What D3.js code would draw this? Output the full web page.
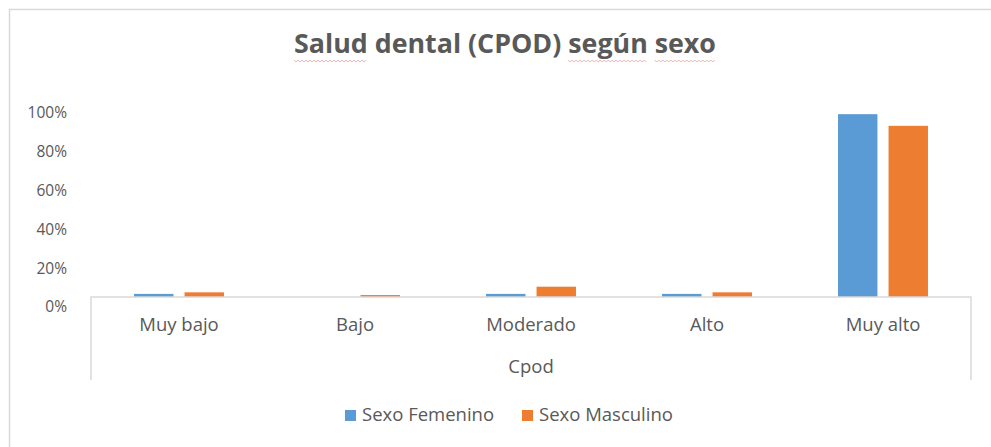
<!DOCTYPE html>
<html>
<head>
<meta charset="utf-8">
<script src="https://cdn.jsdelivr.net/npm/d3@7"></script>
<style>
  html, body { margin: 0; padding: 0; background: #fff; }
  svg { display: block; font-family: "Open Sans", sans-serif; }
</style>
</head>
<body>
<div id="chart"></div>
<script>
// data
const categories = ["Muy bajo", "Bajo", "Moderado", "Alto", "Muy alto"];
const seriesNames = ["Sexo Femenino", "Sexo Masculino"];
const femenino = [0.016, 0, 0.016, 0.016, 0.94];
const masculino = [0.024, 0.010, 0.053, 0.024, 0.88];
const yTicks = [0, 0.2, 0.4, 0.6, 0.8, 1];
const axisTitle = "Cpod";
const chartTitle = "Salud dental (CPOD) según sexo";

const colors = ["#5B9BD5", "#ED7D31"];
const textColor = "#595959";
const lineColor = "#D9D9D9";

const width = 991, height = 447;
const plot = { left: 91, right: 971, top: 102.5, bottom: 297 };

const svg = d3.select("#chart")
    .append("svg")
    .attr("width", width)
    .attr("height", height);

// outer chart frame (runs off the right / bottom edge like the screenshot)
svg.append("rect")
    .attr("x", 9.5).attr("y", 9.5)
    .attr("width", 1000).attr("height", 500)
    .attr("fill", "none")
    .attr("stroke", lineColor)
    .attr("stroke-width", 1.5);

// title
const title = svg.append("text")
    .attr("x", 505)
    .attr("y", 53)
    .attr("text-anchor", "middle")
    .attr("font-weight", "bold")
    .attr("font-size", "26.8px")
    .attr("fill", textColor)
    .text(chartTitle);

// spell-check squiggles under a few words, as in the screenshot
const titleNode = title.node();
const titleStart = 505 - titleNode.getComputedTextLength() / 2;
["Salud", "según", "sexo"].forEach(function (word) {
    const idx = chartTitle.indexOf(word);
    const x0 = titleStart + (idx > 0 ? titleNode.getSubStringLength(0, idx) : 0);
    const w = titleNode.getSubStringLength(idx, word.length);
    let d = "M" + x0 + ",60";
    for (let x = x0 + 2, k = 0; x <= x0 + w; x += 2, k++) {
        d += "L" + x + "," + (k % 2 === 0 ? 62 : 60);
    }
    svg.append("path")
        .attr("d", d)
        .attr("fill", "none")
        .attr("stroke", "#E8A0A0")
        .attr("stroke-width", 0.8);
});

// scales
const x0 = d3.scaleBand()
    .domain(categories)
    .range([plot.left, plot.right])
    .paddingInner(0.489)
    .paddingOuter(0.2445);

const x1 = d3.scaleBand()
    .domain(seriesNames)
    .range([0, x0.bandwidth()])
    .paddingInner(0.22);

const y = d3.scaleLinear()
    .domain([0, 1])
    .range([plot.bottom, plot.top]);

// y axis labels (no line, no ticks)
const yAxis = svg.append("g")
    .attr("transform", `translate(${plot.left - 24}, 10)`)
    .call(d3.axisLeft(y).tickValues(yTicks).tickFormat(d3.format(".0%")).tickSize(0).tickPadding(0));
yAxis.select(".domain").remove();
yAxis.selectAll("text")
    .attr("font-family", "Open Sans, sans-serif")
    .attr("font-size", "15.5px")
    .attr("fill", textColor);

// bars
const rows = categories.map((c, i) => ({ cat: c, values: [femenino[i], masculino[i]] }));

svg.append("g")
    .selectAll("g")
    .data(rows)
    .join("g")
    .attr("transform", d => `translate(${x0(d.cat)},0)`)
    .selectAll("rect")
    .data(d => d.values.map((v, i) => ({ name: seriesNames[i], value: v, i: i })))
    .join("rect")
    .attr("x", d => x1(d.name))
    .attr("y", d => y(d.value))
    .attr("width", x1.bandwidth())
    .attr("height", d => y(0) - y(d.value))
    .attr("fill", d => colors[d.i]);

// category axis: baseline plus the box sides of the multi-level axis
const xAxis = svg.append("g")
    .attr("transform", `translate(0, ${plot.bottom})`)
    .call(d3.axisBottom(x0).tickSize(0).tickPadding(0));
xAxis.select(".domain").remove();
xAxis.selectAll("text")
    .attr("font-family", "Open Sans, sans-serif")
    .attr("font-size", "18.5px")
    .attr("fill", textColor)
    .attr("dy", "0")
    .attr("y", 34);

svg.append("path")
    .attr("d", `M${plot.left},380V${plot.bottom}H${plot.right}V380`)
    .attr("fill", "none")
    .attr("stroke", lineColor)
    .attr("stroke-width", 1.5);

svg.append("text")
    .attr("x", (plot.left + plot.right) / 2)
    .attr("y", 373)
    .attr("text-anchor", "middle")
    .attr("font-size", "18.5px")
    .attr("fill", textColor)
    .text(axisTitle);

// legend
const legendX = [345, 522];
const legend = svg.append("g")
    .selectAll("g")
    .data(seriesNames)
    .join("g")
    .attr("transform", (d, i) => `translate(${legendX[i]}, 410)`);

legend.append("rect")
    .attr("width", 11)
    .attr("height", 11)
    .attr("fill", (d, i) => colors[i]);

legend.append("text")
    .attr("x", 17)
    .attr("y", 11)
    .attr("font-size", "18.5px")
    .attr("fill", textColor)
    .text(d => d);
</script>
</body>
</html>
